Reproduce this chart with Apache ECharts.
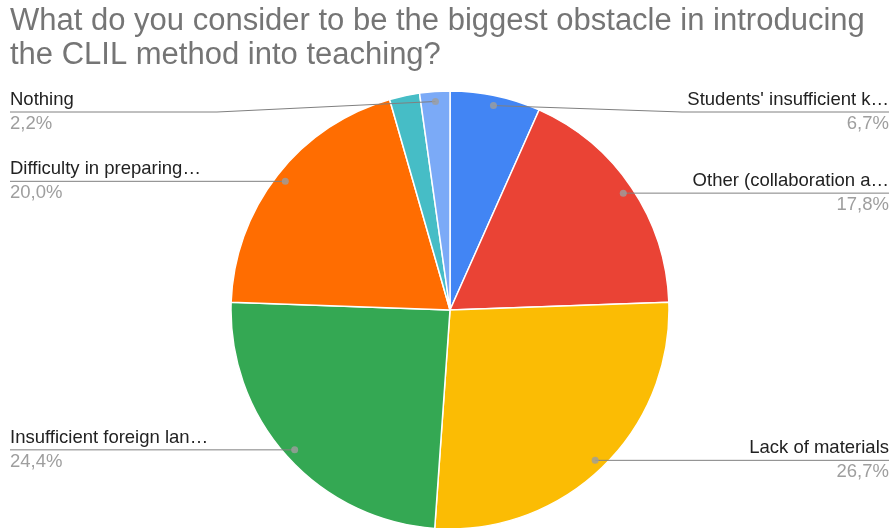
<!DOCTYPE html>
<html>
<head>
<meta charset="utf-8">
<script src="https://cdn.jsdelivr.net/npm/echarts@6/dist/echarts.min.js"></script>
<style>
  html, body { margin: 0; padding: 0; background: #fff; }
  #chart { width: 893px; height: 528px; }
</style>
</head>
<body>
<div id="chart"></div>
<script>
// Survey answers (45 respondents), in clockwise order from 12 o'clock
const TITLE = 'What do you consider to be the biggest obstacle in introducing\nthe CLIL method into teaching?';
const categories = [
  "Students' insufficient k…",
  'Other (collaboration a…',
  'Lack of materials',
  'Insufficient foreign lan…',
  'Difficulty in preparing…',
  'Other answers',
  'Nothing'
];
const responses = [3, 8, 12, 11, 9, 1, 1];
const sliceColors = ['#4285f4', '#ea4335', '#fbbc04', '#34a853', '#ff6d01', '#46bdc6', '#7baaf7'];
const showLabel = [true, true, true, true, true, false, true];

// Layout
const CX = 450, CY = 310, R = 219;
const DOT_INSET = 10;          // label dots sit just inside the rim
const EDGE_L = 10, EDGE_R = 889;
const LABEL_SPAN = 207;        // width of the underline beneath each label
const LABEL_MIN_Y = 112;       // keeps top labels clear of the title
const FONT = "'Liberation Sans', Arial, sans-serif";

const total = responses.reduce((a, b) => a + b, 0);
const before = responses.map((_, i) => responses.slice(0, i).reduce((a, b) => a + b, 0));
const midValue = responses.map((v, i) => before[i] + v / 2);

function fmtPercent(p) {
  return p.toFixed(1).replace('.', ',') + '%';
}

function dotPoint(i) {
  const t = midValue[i] / total * Math.PI * 2;
  const r = R - DOT_INSET;
  return [CX + r * Math.sin(t), CY - r * Math.cos(t)];
}

const pieBase = {
  type: 'pie',
  center: [CX, CY],
  radius: R,
  startAngle: 90,
  clockwise: true,
  percentPrecision: 1,
  avoidLabelOverlap: false,
  emphasis: { disabled: true },
  silent: true
};

const chart = echarts.init(document.getElementById('chart'), null, { renderer: 'canvas' });

chart.setOption({
  animation: false,
  backgroundColor: '#ffffff',
  title: {
    text: TITLE,
    left: 10,
    top: 4,
    padding: 0,
    textStyle: {
      fontFamily: FONT,
      fontSize: 31,
      lineHeight: 34,
      fontWeight: 'normal',
      color: '#757575'
    }
  },
  polar: { center: [CX, CY], radius: R },
  angleAxis: {
    type: 'value', min: 0, max: total, startAngle: 90, clockwise: true, show: false
  },
  radiusAxis: { type: 'value', min: 0, max: R, show: false },
  series: [
    // the coloured slices
    Object.assign({}, pieBase, {
      z: 2,
      itemStyle: { borderColor: '#ffffff', borderWidth: 1.5 },
      label: { show: false },
      labelLine: { show: false },
      data: categories.map((name, i) => ({
        name: name,
        value: responses[i],
        itemStyle: { color: sliceColors[i] }
      }))
    }),
    // same slices, invisible, carrying the labels so their lines run over the colours
    Object.assign({}, pieBase, {
      z: 4,
      itemStyle: { color: 'rgba(0,0,0,0)', borderWidth: 0 },
      label: {
        show: true,
        formatter: p => '{n|' + p.name + '}\n{v|' + fmtPercent(p.percent) + '}',
        rich: {
          n: { fontFamily: FONT, fontSize: 18.5, lineHeight: 24, color: '#222222' },
          v: { fontFamily: FONT, fontSize: 18.5, lineHeight: 24, color: '#9e9e9e' }
        }
      },
      labelLine: {
        show: true,
        showAbove: true,
        length: 10,
        length2: 10,
        lineStyle: { color: '#808080', width: 1 }
      },
      labelLayout: function (params) {
        const i = params.dataIndex;
        const [dx, dy] = dotPoint(i);
        const left = dx < CX;
        const y = Math.max(dy, LABEL_MIN_Y);
        const edge = left ? EDGE_L : EDGE_R;
        const inner = left ? EDGE_L + LABEL_SPAN : EDGE_R - LABEL_SPAN;
        return {
          x: edge,
          y: y,
          align: left ? 'left' : 'right',
          verticalAlign: 'middle',
          labelLinePoints: [[dx, dy], [inner, y], [edge, y]]
        };
      },
      data: categories.map((name, i) => ({
        name: name,
        value: responses[i],
        label: { show: showLabel[i] },
        labelLine: { show: showLabel[i] }
      }))
    }),
    {
      // grey dots where each label line meets its slice
      type: 'scatter',
      coordinateSystem: 'polar',
      silent: true,
      z: 5,
      symbol: 'circle',
      symbolSize: 7,
      itemStyle: { color: '#9e9e9e' },
      data: midValue
        .map((m, i) => showLabel[i] ? [R - DOT_INSET, m] : null)
        .filter(d => d !== null)
    }
  ]
});
</script>
</body>
</html>
